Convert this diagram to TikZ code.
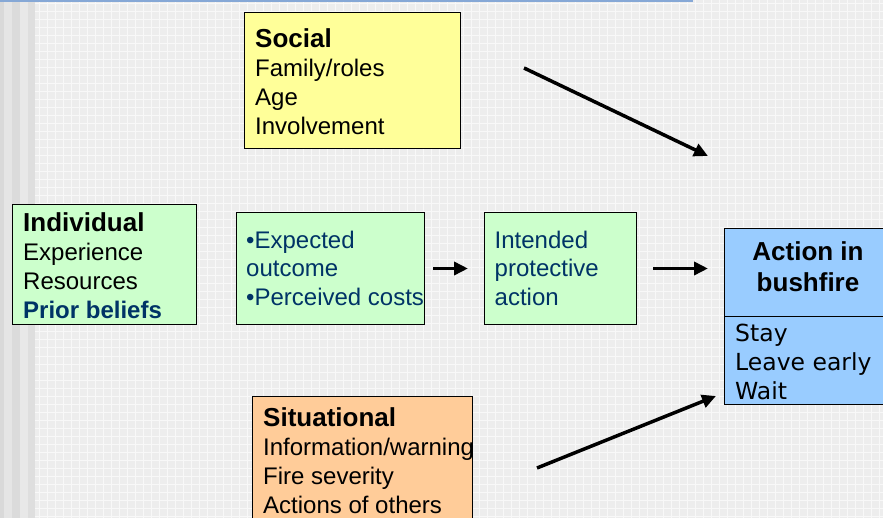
\documentclass[tikz,border=0pt]{standalone}
\usepackage{fontspec}
\setmainfont{Liberation Sans}
\newfontfamily\verdana{DejaVu Sans}
\usetikzlibrary{arrows.meta}

\definecolor{socialyellow}{HTML}{FFFF99}
\definecolor{mintgreen}{HTML}{CCFFCC}
\definecolor{actionblue}{HTML}{99CCFF}
\definecolor{situorange}{HTML}{FFCC99}
\definecolor{navytext}{HTML}{003366}
\definecolor{paper}{HTML}{EDEDED}
\definecolor{topblue}{HTML}{86A8D6}

\begin{document}
\begin{tikzpicture}[x=1pt,y=-1pt,
  box/.style={draw=black, line width=1pt, anchor=north west, inner sep=0pt},
  txt/.style={anchor=north west, align=left, inner sep=0pt, font=\fontsize{24}{29}\selectfont},
  arr/.style={line width=3.5pt, -{Triangle[length=14pt,width=13pt]}}]
\useasboundingbox (0,0) rectangle (883,518);

% slide background
\fill[paper] (0,0) rectangle (883,518);
\foreach \x in {39,47,...,883} \draw[white!60!paper, line width=1pt] (\x,0) -- (\x,518);
\foreach \y in {4,12,...,518} \draw[white!60!paper, line width=1pt] (35,\y) -- (883,\y);
\fill[black!15] (0,0) rectangle (4,518);
\fill[black!10] (4,0) rectangle (12,518);
\fill[black!14] (12,0) rectangle (20,518);
\fill[black!9] (20,0) rectangle (28,518);
\fill[black!13] (28,0) rectangle (35,518);
\fill[topblue] (0,0) rectangle (693,2);

% boxes
\node[box, fill=socialyellow, minimum width=216, minimum height=136] (social) at (244,12) {};
\node[box, fill=mintgreen, minimum width=184, minimum height=120] (indiv) at (12,204) {};
\node[box, fill=mintgreen, minimum width=188, minimum height=112] (expect) at (236,212) {};
\node[box, fill=mintgreen, minimum width=152, minimum height=112] (intend) at (484,212) {};
\node[box, fill=actionblue, minimum width=170, minimum height=176] (action) at (724,228) {};
\node[box, fill=situorange, minimum width=220, minimum height=140] (situ) at (252,396) {};
\draw[line width=1pt] (724,317) -- (894,317);

% box texts
\node[txt] (socialtxt) at (255,27.5) {\strut{\fontsize{26}{29}\selectfont\bfseries Social}\\Family/roles\\Age\\Involvement};
\node[txt] (indivtxt) at (23,211.5) {\strut{\fontsize{26}{29}\selectfont\bfseries Individual}\\Experience\\Resources\\\textcolor{navytext}{\bfseries Prior beliefs}};
\node[txt, text=navytext, font=\fontsize{24}{28.5}\selectfont] (expecttxt) at (246,228.3) {\strut •Expected\\outcome\\•Perceived costs};
\node[txt, text=navytext, font=\fontsize{24}{28.5}\selectfont] (intendtxt) at (494.5,228.3) {\strut Intended\\protective\\action};
\node[anchor=north, align=center, inner sep=0pt, font=\fontsize{26}{31}\selectfont\bfseries] (actiontxt) at (808,238.6) {\strut Action in\\bushfire};
\node[txt, font=\verdana\fontsize{23.5}{29}\selectfont] (choices) at (735,321.4) {\strut Stay\\Leave early\\Wait};
\node[txt, font=\fontsize{24}{28.8}\selectfont] (situtxt) at (263,406.4) {\strut{\fontsize{26}{29}\selectfont\bfseries Situational}\\Information/warning\\Fire severity\\Actions of others};

% arrows
\coordinate (s1) at (524,68);
\coordinate (s2) at (708,156);
\coordinate (w1) at (537,468);
\coordinate (w2) at (716,396);
\draw[arr] (s1) -- (s2);
\draw[arr, shorten <=8pt, shorten >=16pt] (expect.east) -- (intend.west);
\draw[arr, shorten <=16pt, shorten >=16pt] (intend.east) -- (intend.east -| action.west);
\draw[arr] (w1) -- (w2);
\end{tikzpicture}
\end{document}
